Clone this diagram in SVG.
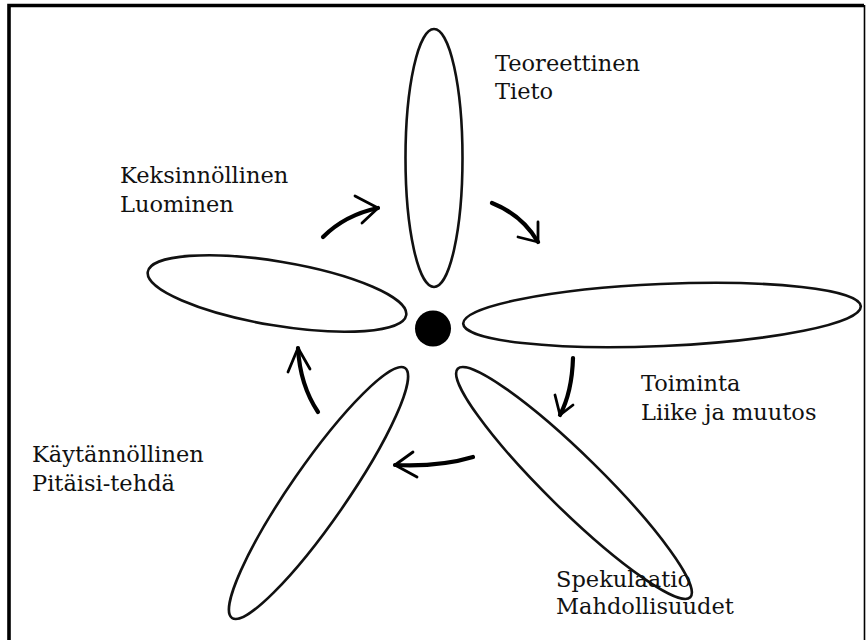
<svg xmlns="http://www.w3.org/2000/svg" width="867" height="640" viewBox="0 0 867 640">
<style>
.petal{fill:none;stroke:#111;stroke-width:2.6}
.lbl{font-family:"DejaVu Serif","Liberation Serif",serif;font-size:22.5px;fill:#111}
.arr{fill:none;stroke:#000;stroke-width:4.2;stroke-linecap:round}
.head{fill:none;stroke:#000;stroke-width:2.8;stroke-linecap:round;stroke-linejoin:round}
</style>
<rect x="0" y="0" width="867" height="640" fill="#fff"/>
<path d="M9,640 V5.5 H864" fill="none" stroke="#000" stroke-width="3.6"/>
<path d="M864.5,5 V640" fill="none" stroke="#000" stroke-width="1.6"/>
<g id="teoreettinen">
<ellipse class="petal" cx="434" cy="158" rx="28.5" ry="129"/>
<text class="lbl" x="495" y="71">Teoreettinen</text>
<text class="lbl" x="495" y="99">Tieto</text>
</g>
<g id="toiminta">
<ellipse class="petal" cx="662" cy="315" rx="199" ry="31" transform="rotate(-2.5 662 315)"/>
<text class="lbl" x="641" y="391">Toiminta</text>
<text class="lbl" x="641" y="420">Liike ja muutos</text>
</g>
<g id="spekulaatio">
<ellipse class="petal" cx="574" cy="483" rx="163" ry="27.5" transform="rotate(44.5 574 483)"/>
<text class="lbl" x="556" y="587">Spekulaatio</text>
<text class="lbl" x="556" y="614">Mahdollisuudet</text>
</g>
<g id="kaytannollinen">
<ellipse class="petal" cx="318.5" cy="493" rx="152" ry="28" transform="rotate(-55.3 318.5 493)"/>
<text class="lbl" x="32" y="462">Käytännöllinen</text>
<text class="lbl" x="32" y="491">Pitäisi-tehdä</text>
</g>
<g id="keksinnollinen">
<ellipse class="petal" cx="277" cy="293.5" rx="131" ry="32" transform="rotate(9.5 277 293.5)"/>
<text class="lbl" x="120" y="183">Keksinnöllinen</text>
<text class="lbl" x="120" y="212">Luominen</text>
</g>
<g id="center">
<circle cx="433" cy="328.5" r="18" fill="#000"/>
</g>
<g id="connectors">
<path class="arr" d="M323,237 Q345,215 378,208"/>
<path class="head" d="M355,196 L378,208 L362,223"/>
<path class="arr" d="M492,203 Q522,215 538,242"/>
<path class="head" d="M518,237 L538,242 L538,222"/>
<path class="arr" d="M573,358 Q572,392 560,415"/>
<path class="head" d="M555,395 L560,415 L573,405"/>
<path class="arr" d="M473,457 Q440,467 395,465"/>
<path class="head" d="M413,452 L395,465 L417,477"/>
<path class="arr" d="M318,412 Q300,385 298,348"/>
<path class="head" d="M288,372 L298,348 L310,369"/>
</g>
</svg>
